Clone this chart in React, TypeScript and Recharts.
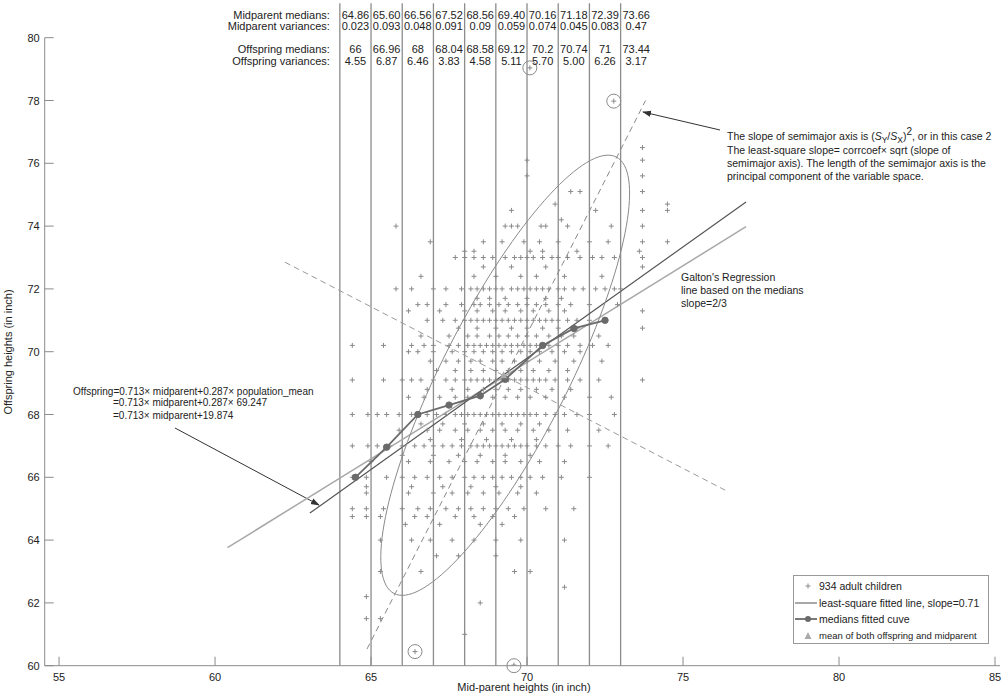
import React from 'react';
import {
  ScatterChart, Scatter, XAxis, YAxis, ReferenceLine, ReferenceDot, Legend, Customized,
} from 'recharts';

const FONT = '"Liberation Sans", Arial, Helvetica, sans-serif';
const TXT = '#222';
const AXIS = '#8c8c8c';
const PT = '#8a8a8a';

const xDomain: [number, number] = [54.54, 85.16];
const yDomain: [number, number] = [60, 80];
const xTicks = [55, 60, 65, 70, 75, 80, 85];
const yTicks = [60, 62, 64, 66, 68, 70, 72, 74, 76, 78, 80];

const binEdges = [64, 65, 66, 67, 68, 69, 70, 71, 72, 73];
const binCenters = [64.5, 65.5, 66.5, 67.5, 68.5, 69.5, 70.5, 71.5, 72.5, 73.5];
const midparentMedians = ['64.86', '65.60', '66.56', '67.52', '68.56', '69.40', '70.16', '71.18', '72.39', '73.66'];
const midparentVariances = ['0.023', '0.093', '0.048', '0.091', '0.09', '0.059', '0.074', '0.045', '0.083', '0.47'];
const offspringMedians = ['66', '66.96', '68', '68.04', '68.58', '69.12', '70.2', '70.74', '71', '73.44'];
const offspringVariances = ['4.55', '6.87', '6.46', '3.83', '4.58', '5.11', '5.70', '5.00', '6.26', '3.17'];
const headerRows = [
  { label: 'Midparent medians:', y: 80.72, values: midparentMedians },
  { label: 'Midparent variances:', y: 80.36, values: midparentVariances },
  { label: 'Offspring medians:', y: 79.63, values: offspringMedians },
  { label: 'Offspring variances:', y: 79.25, values: offspringVariances },
];

// medians fitted curve (midparent position, offspring median) as drawn
const medianCurveX = [64.5, 65.5, 66.5, 67.5, 68.5, 69.3, 70.5, 71.5, 72.5];
const medianCurveY = [66, 66.96, 68, 68.3, 68.6, 69.12, 70.2, 70.74, 71];

// straight lines (end points)
const leastSquareLine = [{ x: 63.04, y: 64.86 }, { x: 77.02, y: 74.77 }];
const galtonLine = [{ x: 60.4, y: 63.76 }, { x: 77.02, y: 73.98 }];
const majorAxisLine = [{ x: 64.87, y: 60.53 }, { x: 73.8, y: 78.0 }];
const minorAxisLine = [{ x: 62.24, y: 72.85 }, { x: 76.35, y: 65.59 }];

// ellipse parameters
const ellipseCenter = { x: 69.3, y: 69.25 };
const ellipseSemiMajor = 7.81;
const ellipseSemiMinor = 2.01;
const ellipseSlope = 1.95;
const meanPoint = { x: 69.25, y: 69.25 };

// circled outliers
const outliers = [
  { x: 70.09, y: 79.04 },
  { x: 72.78, y: 77.98 },
  { x: 66.41, y: 60.45 },
  { x: 69.58, y: 60.0 },
];

// 934 adult children: rows of offspring height with the mid-parent heights seen on that row
const childRows: [number, number[]][] = [
  [76.5, [73.7]],
  [76.1, [70.0, 73.7]],
  [75.6, [70.0, 73.7]],
  [75.1, [71.4, 71.7, 73.7]],
  [74.7, [70.9, 74.5]],
  [74.5, [69.5, 72.2, 73.7, 74.5]],
  [74.2, [71.1]],
  [74.0, [65.8, 69.3, 69.5, 69.7, 70.45, 70.6, 71.3, 72.7, 73.7]],
  [73.5, [66.9, 68.6, 69.2, 69.9, 70.4, 71.0, 72.0, 72.6, 73.7, 74.5]],
  [73.2, [68.0, 68.3, 70.1, 70.5, 71.6, 73.6]],
  [73.0, [67.7, 68.0, 68.3, 68.6, 68.9, 69.3, 69.6, 69.8, 70.0, 70.2, 70.5, 70.8, 71.0, 71.3, 71.7, 72.1, 72.4, 72.8, 73.7]],
  [72.7, [68.6, 69.5, 70.6, 73.7]],
  [72.4, [66.6, 68.3, 69.0, 69.8, 70.3, 71.2, 72.4]],
  [72.0, [65.8, 66.3, 67.0, 67.4, 67.9, 68.2, 68.4, 68.6, 68.8, 69.0, 69.2, 69.5, 69.7, 69.9, 70.1, 70.3, 70.5, 70.7, 71.0, 71.2, 71.5, 71.8, 72.2, 72.5, 72.8, 73.0]],
  [71.7, [68.4, 68.8, 69.3, 70.0, 70.6, 71.1]],
  [71.5, [66.5, 66.8, 67.4, 67.9, 68.3, 68.5, 68.8, 69.1, 69.4, 69.7, 70.0, 70.3, 70.6, 71.0, 71.4, 72.0, 72.9]],
  [71.3, [66.2, 67.2, 68.0, 68.4, 68.9, 69.3, 69.8, 70.2, 70.7, 71.2, 73.7]],
  [71.0, [66.8, 67.3, 67.7, 68.0, 68.2, 68.4, 68.6, 68.8, 69.0, 69.2, 69.4, 69.6, 69.8, 70.0, 70.2, 70.4, 70.6, 70.8, 71.0, 71.3, 71.6, 72.0, 72.5]],
  [70.75, [67.8, 68.4, 69.0, 69.5, 70.0, 70.5, 71.0, 71.6, 73.7]],
  [70.5, [66.6, 67.5, 68.1, 68.4, 68.8, 69.1, 69.4, 69.7, 70.0, 70.3, 70.7, 71.1, 71.5, 72.3]],
  [70.2, [64.4, 65.4, 66.3, 66.7, 67.0, 67.5, 67.8, 68.1, 68.3, 68.5, 68.7, 68.9, 69.1, 69.3, 69.5, 69.7, 69.9, 70.1, 70.3, 70.5, 70.7, 71.0, 71.3, 71.7, 72.1, 72.6]],
  [70.0, [66.2, 66.5, 67.0, 67.6, 68.0, 68.3, 68.6, 68.9, 69.2, 69.5, 69.8, 70.1, 70.4, 70.8, 71.2, 71.7]],
  [69.7, [66.9, 67.4, 67.8, 68.2, 68.5, 68.9, 69.2, 69.6, 70.0, 70.4, 70.9, 71.5, 72.4]],
  [69.4, [67.1, 67.7, 68.2, 68.6, 69.0, 69.4, 69.8, 70.2, 70.7, 71.3]],
  [69.1, [64.4, 65.4, 66.0, 66.3, 66.6, 67.0, 67.4, 67.7, 68.0, 68.2, 68.4, 68.6, 68.8, 69.0, 69.2, 69.4, 69.6, 69.8, 70.0, 70.2, 70.4, 70.6, 70.9, 71.3, 71.7, 72.3, 73.7]],
  [68.8, [66.8, 67.6, 68.1, 68.6, 69.0, 69.4, 69.8, 70.3, 70.8, 71.4]],
  [68.55, [66.2, 66.7, 67.2, 67.7, 68.1, 68.5, 68.9, 69.3, 69.7, 70.1, 70.6, 71.2, 72.0, 72.7]],
  [68.0, [64.4, 64.9, 65.2, 65.5, 65.9, 66.3, 66.5, 66.8, 67.1, 67.4, 67.7, 67.9, 68.1, 68.3, 68.5, 68.7, 68.9, 69.1, 69.3, 69.5, 69.7, 69.9, 70.1, 70.3, 70.6, 70.9, 71.2, 71.6, 72.0, 72.8]],
  [67.7, [66.6, 67.3, 68.0, 68.6, 69.2, 69.8, 70.4]],
  [67.5, [65.9, 66.8, 67.2, 67.7, 68.1, 68.5, 68.9, 69.3, 69.7, 70.2, 70.7, 71.3, 72.3]],
  [67.2, [66.9, 67.9, 68.7, 69.5, 70.3]],
  [67.0, [64.4, 64.9, 65.2, 65.6, 66.0, 66.4, 66.7, 67.0, 67.3, 67.6, 67.9, 68.2, 68.4, 68.6, 68.8, 69.0, 69.2, 69.4, 69.6, 69.8, 70.0, 70.3, 70.6, 71.0, 71.4, 72.0, 72.6]],
  [66.7, [66.0, 67.0, 67.8, 68.5, 69.3, 70.1]],
  [66.5, [65.0, 66.2, 66.9, 67.5, 68.0, 68.4, 68.9, 69.3, 69.8, 70.4, 71.2]],
  [66.0, [64.4, 64.85, 65.5, 66.0, 66.4, 66.8, 67.2, 67.6, 68.0, 68.3, 68.6, 68.9, 69.2, 69.5, 69.8, 70.1, 70.5, 71.1, 72.0]],
  [65.7, [64.85, 66.3, 67.3, 68.2, 69.0, 69.8]],
  [65.5, [64.85, 66.2, 67.0, 67.6, 68.1, 68.6, 69.1, 69.7, 70.3]],
  [65.0, [64.4, 64.85, 65.4, 66.0, 66.5, 66.9, 67.4, 67.8, 68.2, 68.6, 69.0, 69.4, 69.9, 70.6, 71.5]],
  [64.75, [64.4, 64.85, 65.3, 66.4, 66.8, 67.7, 68.3, 68.9, 69.6]],
  [64.5, [66.1, 67.2, 68.5, 69.2]],
  [64.0, [65.3, 66.3, 66.9, 67.6, 68.3, 69.0, 69.8, 71.2]],
  [63.5, [67.1, 67.8, 69.0]],
  [63.0, [65.3, 66.6, 69.6, 70.1]],
  [62.5, [71.2]],
  [62.2, [64.85]],
  [62.0, [68.5]],
  [61.5, [64.85, 65.3]],
  [61.0, [68.0]],
  [79.04, [70.09]],
  [77.98, [72.78]],
  [60.45, [66.41]],
  [60.02, [69.58]],
];

const childPoints = childRows.flatMap(([y, xs]) => xs.map((x) => ({ x, y })));
const medianPoints = medianCurveX.map((x, i) => ({ x, y: medianCurveY[i] }));

const ellipsePoints = (() => {
  const n = Math.hypot(1, ellipseSlope);
  const ux = 1 / n, uy = ellipseSlope / n;
  const vx = -uy, vy = ux;
  const pts: { x: number; y: number }[] = [];
  for (let i = 0; i <= 144; i++) {
    const t = (i / 144) * Math.PI * 2;
    const a = ellipseSemiMajor * Math.cos(t);
    const b = ellipseSemiMinor * Math.sin(t);
    pts.push({ x: ellipseCenter.x + a * ux + b * vx, y: ellipseCenter.y + a * uy + b * vy });
  }
  return pts;
})();

const PlusShape = (p: any) => {
  const { cx, cy } = p;
  if (cx == null || cy == null) return null;
  return (
    <g>
      <line x1={cx - 2.5} x2={cx + 2.5} y1={cy} y2={cy} stroke={PT} strokeWidth={1} />
      <line x1={cx} x2={cx} y1={cy - 2.5} y2={cy + 2.5} stroke={PT} strokeWidth={1} />
    </g>
  );
};
const NoShape = () => null;
const MedianDot = (p: any) => {
  const { cx, cy } = p;
  if (cx == null || cy == null) return null;
  return <circle cx={cx} cy={cy} r={3.2} fill="#6a6a6a" stroke="#6a6a6a" />;
};

const BottomTick = (p: any) => (
  <g>
    <line x1={p.x} x2={p.x} y1={p.y} y2={p.y - 9} stroke={AXIS} strokeWidth={1} />
    <text x={p.x} y={p.y + 15} textAnchor="middle" fontSize={11} fill={TXT} fontFamily={FONT}>
      {p.payload.value}
    </text>
  </g>
);
const TopTick = (p: any) => (
  <line x1={p.x} x2={p.x} y1={p.y} y2={p.y + 9} stroke={AXIS} strokeWidth={1} />
);
const LeftTick = (p: any) => (
  <g>
    <line x1={p.x} x2={p.x + 9} y1={p.y} y2={p.y} stroke={AXIS} strokeWidth={1} />
    <text x={p.x - 5} y={p.y + 4} textAnchor="end" fontSize={11} fill={TXT} fontFamily={FONT}>
      {p.payload.value}
    </text>
  </g>
);
const RightTick = (p: any) => (
  <line x1={p.x} x2={p.x - 9} y1={p.y} y2={p.y} stroke={AXIS} strokeWidth={1} />
);

const textLabel = (value: string, anchor: 'start' | 'middle' | 'end', size = 11) => (props: any) => {
  const vb = props.viewBox || {};
  return (
    <text x={vb.x} y={vb.y + size * 0.36} textAnchor={anchor} fontSize={size} fill={TXT} fontFamily={FONT}>
      {value}
    </text>
  );
};

const Annotations = () => (
  <g fontFamily={FONT} fill={TXT}>
    <defs>
      <marker id="arrowHead" viewBox="0 0 10 10" refX="9" refY="5" markerWidth="9" markerHeight="9" orient="auto-start-reverse">
        <path d="M0,1.5 L10,5 L0,8.5 z" fill="#333" />
      </marker>
    </defs>
    <text x={12} y={352} fontSize={11} textAnchor="middle" transform="rotate(-90 12 352)">Offspring heights (in inch)</text>
    <text x={524} y={691} fontSize={11} textAnchor="middle">Mid-parent heights (in inch)</text>

    <text x={727} y={140} fontSize={10.5}>
      The slope of semimajor axis is (<tspan fontStyle="italic">S</tspan>
      <tspan dy={3} fontSize={8.5}>Y</tspan>
      <tspan dy={-3}>/</tspan>
      <tspan fontStyle="italic">S</tspan>
      <tspan dy={3} fontSize={8.5}>X</tspan>
      <tspan dy={-3}>)</tspan>
      <tspan dy={-5} fontSize={10}>2</tspan>
      <tspan dy={5}>, or in this case 2</tspan>
    </text>
    <text x={727} y={154} fontSize={10.5}>The least-square slope= corrcoef× sqrt (slope of</text>
    <text x={727} y={167} fontSize={10.5}>semimajor axis). The length of the semimajor axis is the</text>
    <text x={727} y={180} fontSize={10.5}>principal component of the variable space.</text>
    <line x1={720} y1={130} x2={643} y2={112} stroke="#333" strokeWidth={1} markerEnd="url(#arrowHead)" />

    <text x={681} y={281} fontSize={10.5}>Galton's Regression</text>
    <text x={681} y={294} fontSize={10.5}>line based on the medians</text>
    <text x={681} y={307} fontSize={10.5}>slope=2/3</text>

    <text x={73} y={395} fontSize={10}>Offspring=0.713× midparent+0.287× population_mean</text>
    <text x={113} y={406} fontSize={10}>=0.713× midparent+0.287× 69.247</text>
    <text x={113} y={419} fontSize={10}>=0.713× midparent+19.874</text>
    <line x1={175} y1={428} x2={319} y2={505} stroke="#333" strokeWidth={1} markerEnd="url(#arrowHead)" />
  </g>
);

const LegendBox = () => (
  <svg width={196} height={70} style={{ display: 'block', overflow: 'visible' }}>
    <rect x={0.5} y={0.5} width={195} height={68} fill="#fff" stroke="#999" />
    <g fontFamily={FONT} fill={TXT}>
      <line x1={12.5} x2={17.5} y1={11} y2={11} stroke={PT} />
      <line x1={15} x2={15} y1={8.5} y2={13.5} stroke={PT} />
      <text x={26} y={15} fontSize={10.5}>934 adult children</text>
      <line x1={2} x2={24} y1={28} y2={28} stroke="#a8a8a8" strokeWidth={2} />
      <text x={26} y={32} fontSize={10.5}>least-square fitted line, slope=0.71</text>
      <line x1={2} x2={24} y1={44} y2={44} stroke="#6a6a6a" strokeWidth={1.8} />
      <circle cx={15} cy={44} r={3} fill="#6a6a6a" />
      <text x={26} y={48} fontSize={10.5}>medians fitted cuve</text>
      <path d="M11.5,64 L15,57 L18.5,64 z" fill="#aaa" />
      <text x={26} y={64} fontSize={9.5}>mean of both offspring and midparent</text>
    </g>
  </svg>
);

export default function App() {
  return (
    <div style={{ position: 'absolute', left: 0, top: 0, width: 1001, height: 694, background: '#fff' }}>
      <ScatterChart width={1001} height={694} margin={{ top: 37.7, right: 1, bottom: 0, left: 0 }}>
        <XAxis
          xAxisId={0}
          type="number"
          dataKey="x"
          domain={xDomain}
          ticks={xTicks}
          allowDataOverflow
          height={28.3}
          tickSize={0}
          tickMargin={0}
          axisLine={{ stroke: AXIS }}
          tickLine={false}
          tick={BottomTick}
          interval={0}
        />
        <XAxis
          xAxisId="top"
          orientation="top"
          type="number"
          dataKey="x"
          domain={xDomain}
          ticks={xTicks}
          allowDataOverflow
          height={0}
          tickSize={0}
          tickMargin={0}
          axisLine={{ stroke: AXIS }}
          tickLine={false}
          tick={TopTick}
          interval={0}
        />
        <YAxis
          yAxisId={0}
          type="number"
          dataKey="y"
          domain={yDomain}
          ticks={yTicks}
          allowDataOverflow
          width={44.7}
          tickSize={0}
          tickMargin={0}
          axisLine={{ stroke: AXIS }}
          tickLine={false}
          tick={LeftTick}
          interval={0}
        />
        <YAxis
          yAxisId="right"
          orientation="right"
          type="number"
          dataKey="y"
          domain={yDomain}
          ticks={yTicks}
          allowDataOverflow
          width={0}
          tickSize={0}
          tickMargin={0}
          axisLine={{ stroke: AXIS }}
          tickLine={false}
          tick={RightTick}
          interval={0}
        />

        {binEdges.map((x) => (
          <ReferenceLine
            key={'edge' + x}
            segment={[{ x, y: 60 }, { x, y: 81.1 }]}
            stroke="#8c8c8c"
            strokeWidth={1.3}
            ifOverflow="visible"
          />
        ))}

        <Scatter data={childPoints} shape={PlusShape} isAnimationActive={false} />

        <Scatter data={ellipsePoints} shape={NoShape} line={{ stroke: '#8a8a8a', strokeWidth: 1 }} isAnimationActive={false} />

        <ReferenceLine segment={majorAxisLine} stroke="#8a8a8a" strokeWidth={1} strokeDasharray="6 4" ifOverflow="visible" />
        <ReferenceLine segment={minorAxisLine} stroke="#9a9a9a" strokeWidth={1} strokeDasharray="6 4" ifOverflow="visible" />
        <ReferenceLine segment={galtonLine} stroke="#a8a8a8" strokeWidth={1.5} ifOverflow="visible" />
        <ReferenceLine segment={leastSquareLine} stroke="#555" strokeWidth={1.2} ifOverflow="visible" />

        <Scatter data={medianPoints} shape={MedianDot} line={{ stroke: '#6a6a6a', strokeWidth: 1.8 }} isAnimationActive={false} />

        <ReferenceDot
          x={meanPoint.x}
          y={meanPoint.y}
          r={4}
          ifOverflow="visible"
          shape={(p: any) => (
            <path d={`M${p.cx - 3.5},${p.cy + 3} L${p.cx},${p.cy - 4} L${p.cx + 3.5},${p.cy + 3} z`} fill="#aaa" />
          )}
        />

        {outliers.map((o, i) => (
          <ReferenceDot key={'out' + i} x={o.x} y={o.y} r={7} fill="none" stroke="#8a8a8a" strokeWidth={1} ifOverflow="visible" />
        ))}

        {headerRows.map((row) => (
          <ReferenceDot
            key={'hl' + row.label}
            x={63.68}
            y={row.y}
            r={0}
            fill="none"
            stroke="none"
            ifOverflow="visible"
            label={textLabel(row.label, 'end')}
          />
        ))}
        {headerRows.map((row) =>
          row.values.map((v, i) => (
            <ReferenceDot
              key={'hv' + row.label + i}
              x={binCenters[i]}
              y={row.y}
              r={0}
              fill="none"
              stroke="none"
              ifOverflow="visible"
              label={textLabel(v, 'middle')}
            />
          ))
        )}

        <Customized component={<Annotations />} />

        <Legend
          layout="vertical"
          align="center"
          verticalAlign="middle"
          wrapperStyle={{ left: 793, top: 575, width: 196, height: 70 }}
          content={() => <LegendBox />}
        />
      </ScatterChart>
    </div>
  );
}
